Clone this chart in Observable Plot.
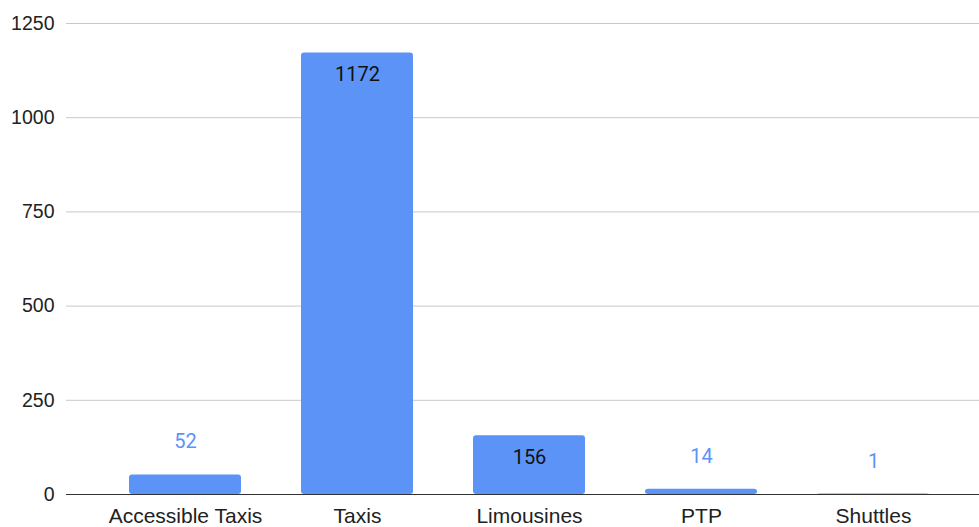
<!DOCTYPE html>
<html>
<head>
<meta charset="utf-8">
<script src="https://cdn.jsdelivr.net/npm/d3@7"></script>
<script src="https://cdn.jsdelivr.net/npm/@observablehq/plot@0.6"></script>
<style>
  html, body { margin: 0; padding: 0; background: #fff; }
</style>
</head>
<body>
<div id="chart"></div>
<script>
const categories = ["Accessible Taxis", "Taxis", "Limousines", "PTP", "Shuttles"];
const values = [52, 1172, 156, 14, 1];
const yTicks = [0, 250, 500, 750, 1000, 1250];
const insideThreshold = 100;

const data = categories.map((c, i) => ({cat: c, val: values[i]}));
const barColor = "#5b93f7";
const labelBlue = "#5b93f7";

const chart = Plot.plot({
  width: 979,
  height: 527,
  marginLeft: 66,
  marginRight: 0,
  marginTop: 23,
  marginBottom: 33,
  style: {fontFamily: "'Liberation Sans', Arial, sans-serif", color: "#222", background: "#fff"},
  x: {domain: categories, range: [97.6, 961.4], paddingInner: 0.348, paddingOuter: 0.174, label: null},
  y: {domain: [0, 1250], label: null},
  marks: [
    Plot.gridY(yTicks.filter(d => d > 0), {stroke: "#c8c8c8", strokeOpacity: 1}),
    Plot.barY(data, {x: "cat", y: "val", fill: barColor, rx: 3}),
    Plot.ruleY([0], {stroke: "#333", strokeWidth: 1.2}),
    Plot.axisX({tickSize: 0, tickPadding: 14, fontSize: 21, label: null, fill: "#222"}),
    Plot.axisY({ticks: yTicks, tickFormat: d => String(d), tickSize: 0, tickPadding: 12, fontSize: 19.5, label: null, fill: "#222"}),
    Plot.text(data.filter(d => d.val < insideThreshold), {
      x: "cat", y: "val", text: d => String(d.val), dy: -33,
      fill: labelBlue, fontSize: 20, fontFamily: "Roboto, sans-serif"
    }),
    Plot.text(data.filter(d => d.val >= insideThreshold), {
      x: "cat", y: "val", text: d => String(d.val), dy: 22,
      fill: "#111", fontSize: 20, fontFamily: "Roboto, sans-serif"
    })
  ]
});
document.getElementById("chart").appendChild(chart);
</script>
</body>
</html>
